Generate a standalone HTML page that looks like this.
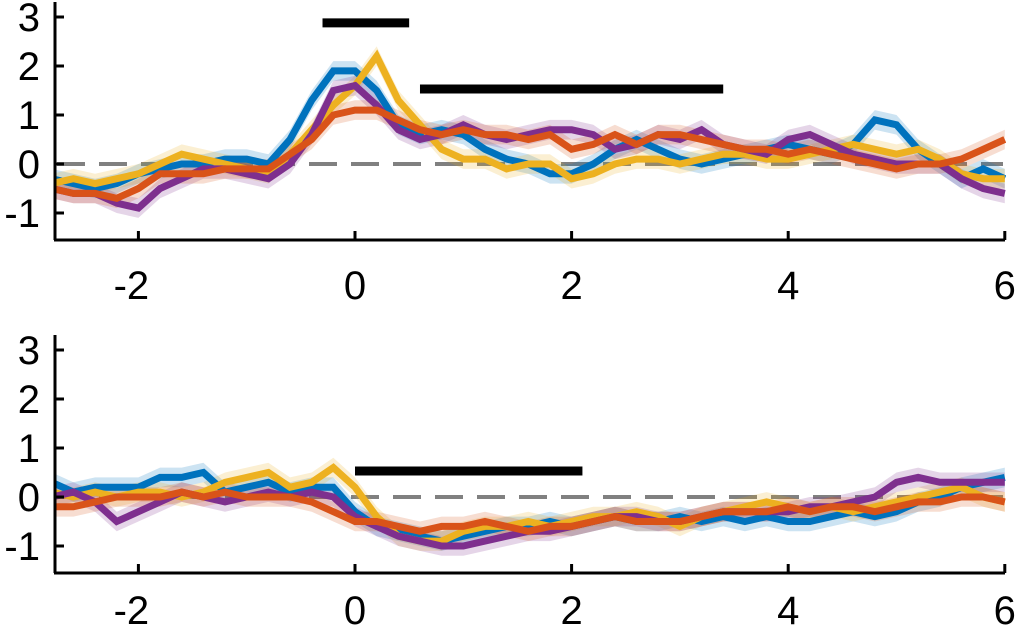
<!DOCTYPE html>
<html><head><meta charset="utf-8"><style>
body{margin:0;background:#fff}
</style></head><body>
<svg id="chart" width="1016" height="636" viewBox="0 0 1016 636" xmlns="http://www.w3.org/2000/svg"></svg>
<script>
const xs=[-2.8,-2.6,-2.4,-2.2,-2.0,-1.8,-1.6,-1.4,-1.2,-1.0,-0.8,-0.6,-0.4,-0.2,0,0.2,0.4,0.6,0.8,1.0,1.2,1.4,1.6,1.8,2.0,2.2,2.4,2.6,2.8,3.0,3.2,3.4,3.6,3.8,4.0,4.2,4.4,4.6,4.8,5.0,5.2,5.4,5.6,5.8,6.0];
const xTicks=[-2,0,2,4,6];
const yTicks=[-1,0,1,2,3];
const topBlue=[-0.3,-0.4,-0.5,-0.4,-0.2,-0.1,0,0,0.1,0.1,0,0.5,1.3,1.9,1.9,1.5,0.8,0.6,0.7,0.6,0.3,0.1,0,-0.2,-0.2,0,0.3,0.5,0.3,0.1,0,0.1,0.2,0.3,0.4,0.3,0.2,0.4,0.9,0.8,0.3,0,-0.3,-0.1,-0.3];
const topYellow=[-0.4,-0.3,-0.4,-0.3,-0.2,0,0.2,0.1,0,-0.1,-0.2,0.2,0.7,1.2,1.6,2.2,1.3,0.8,0.3,0.1,0.1,-0.1,0,0,-0.3,-0.2,0,0.1,0.1,0,0.1,0.2,0.2,0.1,0.1,0.2,0.3,0.4,0.3,0.2,0.3,0.1,-0.2,-0.3,-0.3];
const topPurple=[-0.5,-0.6,-0.6,-0.8,-0.9,-0.5,-0.3,-0.1,-0.1,-0.2,-0.3,0,0.6,1.5,1.6,1.2,0.7,0.5,0.6,0.8,0.6,0.5,0.6,0.7,0.7,0.6,0.3,0.4,0.6,0.5,0.7,0.4,0.3,0.2,0.5,0.6,0.4,0.2,0.1,0,0,0,-0.3,-0.5,-0.6];
const topRed=[-0.5,-0.6,-0.6,-0.7,-0.5,-0.2,-0.2,-0.2,-0.1,-0.1,-0.1,0.2,0.5,1.0,1.1,1.1,0.9,0.7,0.6,0.7,0.6,0.6,0.5,0.6,0.3,0.4,0.6,0.4,0.6,0.6,0.5,0.4,0.3,0.3,0.2,0.3,0.2,0.1,0,-0.1,0,0,0.1,0.3,0.5];
const botBlue=[0.3,0.1,0.2,0.2,0.2,0.4,0.4,0.5,0.1,0.2,0.3,0.1,0.2,0.2,-0.3,-0.6,-0.7,-0.8,-0.9,-0.8,-0.7,-0.6,-0.6,-0.5,-0.6,-0.5,-0.4,-0.5,-0.5,-0.4,-0.5,-0.4,-0.5,-0.4,-0.5,-0.5,-0.4,-0.3,-0.4,-0.3,-0.1,0,0.2,0.3,0.4];
const botYellow=[0.1,0,0.1,0,0.1,0.1,0,0.1,0.3,0.4,0.5,0.2,0.3,0.6,0.2,-0.4,-0.8,-0.9,-0.9,-0.7,-0.6,-0.6,-0.5,-0.6,-0.5,-0.4,-0.4,-0.3,-0.4,-0.6,-0.4,-0.3,-0.2,-0.1,-0.2,-0.3,-0.2,-0.3,-0.2,-0.1,0,0.1,0.2,0,-0.1];
const botPurple=[0,0.1,-0.1,-0.5,-0.3,-0.1,0.1,0,-0.1,0,0.1,0,0.1,0,-0.4,-0.6,-0.8,-0.9,-1.0,-1.0,-0.9,-0.8,-0.7,-0.7,-0.6,-0.5,-0.4,-0.4,-0.5,-0.5,-0.4,-0.3,-0.3,-0.3,-0.3,-0.2,-0.2,-0.1,0,0.3,0.4,0.3,0.3,0.3,0.3];
const botRed=[-0.2,-0.2,-0.1,0,0,0,0.1,0,0.1,0,0,0,-0.1,-0.3,-0.5,-0.5,-0.6,-0.7,-0.6,-0.6,-0.5,-0.6,-0.7,-0.6,-0.6,-0.5,-0.4,-0.5,-0.5,-0.5,-0.4,-0.3,-0.3,-0.3,-0.2,-0.3,-0.2,-0.2,-0.3,-0.2,-0.1,-0.1,0,0,-0.1];
const topBars=[[-0.3,0.5,2.88],[0.6,3.4,1.53]];
const botBars=[[0,2.1,0.53]];
const colors={blue:"#0072BD",yellow:"#EDB120",purple:"#7E2F8E",red:"#D95319"};
const NS="http://www.w3.org/2000/svg";
const svg=document.getElementById('chart');
const X=v=>355+(v)*108.3;
function el(t,a,p){const e=document.createElementNS(NS,t);for(const k in a)e.setAttribute(k,a[k]);(p||svg).appendChild(e);return e;}
function panel(name,y0,axisY,labelY,series,bars){
  const Y=v=>y0-v*49;
  const g=el('g',{});
  
  
  const cid='clip-'+name;
  const cp=el('clipPath',{id:cid},g);el('rect',{x:56,y:axisY-240,width:950,height:240},cp);
  const z=el('line',{x1:57,x2:1003,y1:Y(0),y2:Y(0),stroke:'#808080','stroke-width':4,'stroke-dasharray':'28 14'},g);
  
  const pg=el('g',{'clip-path':'url(#'+cid+')'},g);
  series.forEach(([nm,vals,c])=>{
    let up=xs.map((x,i)=>X(x)+','+Y(vals[i]+0.2)).join(' ');
    let dn=xs.map((x,i)=>X(x)+','+Y(vals[i]-0.2)).reverse().join(' ');
    const b=el('polygon',{points:up+' '+dn,fill:c,'fill-opacity':0.2},pg);
    
  });
  series.forEach(([nm,vals,c])=>{
    const l=el('polyline',{points:xs.map((x,i)=>X(x)+','+Y(vals[i])).join(' '),fill:'none',stroke:c,'stroke-width':7,'stroke-linejoin':'miter'},pg);
    
  });
  bars.forEach(([a,b,v])=>{
    const r=el('line',{x1:X(a),x2:X(b),y1:Y(v),y2:Y(v),stroke:'#000','stroke-width':9},g);
    
  });
  const ya=el('line',{x1:55,x2:55,y1:axisY-238,y2:axisY,stroke:'#000','stroke-width':3},g);
  
  const xa=el('line',{x1:54,x2:1005,y1:axisY,y2:axisY,stroke:'#000','stroke-width':3},g);
  
  yTicks.forEach(t=>{
    el('line',{x1:55,x2:64,y1:Y(t),y2:Y(t),stroke:'#000','stroke-width':3},g);
    const tx=el('text',{x:40,y:Y(t)+14,'text-anchor':'end','font-family':'Liberation Sans, sans-serif','font-size':40},g);tx.textContent=t<0?'-'+Math.abs(t):t;
    
  });
  xTicks.forEach(t=>{
    el('line',{x1:X(t),x2:X(t),y1:axisY,y2:axisY-9,stroke:'#000','stroke-width':3},g);
    const tx=el('text',{x:X(t)-(t<0?7:0),y:labelY,'text-anchor':'middle','font-family':'Liberation Sans, sans-serif','font-size':40},g);tx.textContent=t<0?'-'+Math.abs(t):t;
    
  });
}
panel('top-panel',164,240,299,[['blue',topBlue,colors.blue],['yellow',topYellow,colors.yellow],['purple',topPurple,colors.purple],['red',topRed,colors.red]],topBars);
panel('bottom-panel',497,573,624,[['blue',botBlue,colors.blue],['yellow',botYellow,colors.yellow],['purple',botPurple,colors.purple],['red',botRed,colors.red]],botBars);
</script>
</body></html>
